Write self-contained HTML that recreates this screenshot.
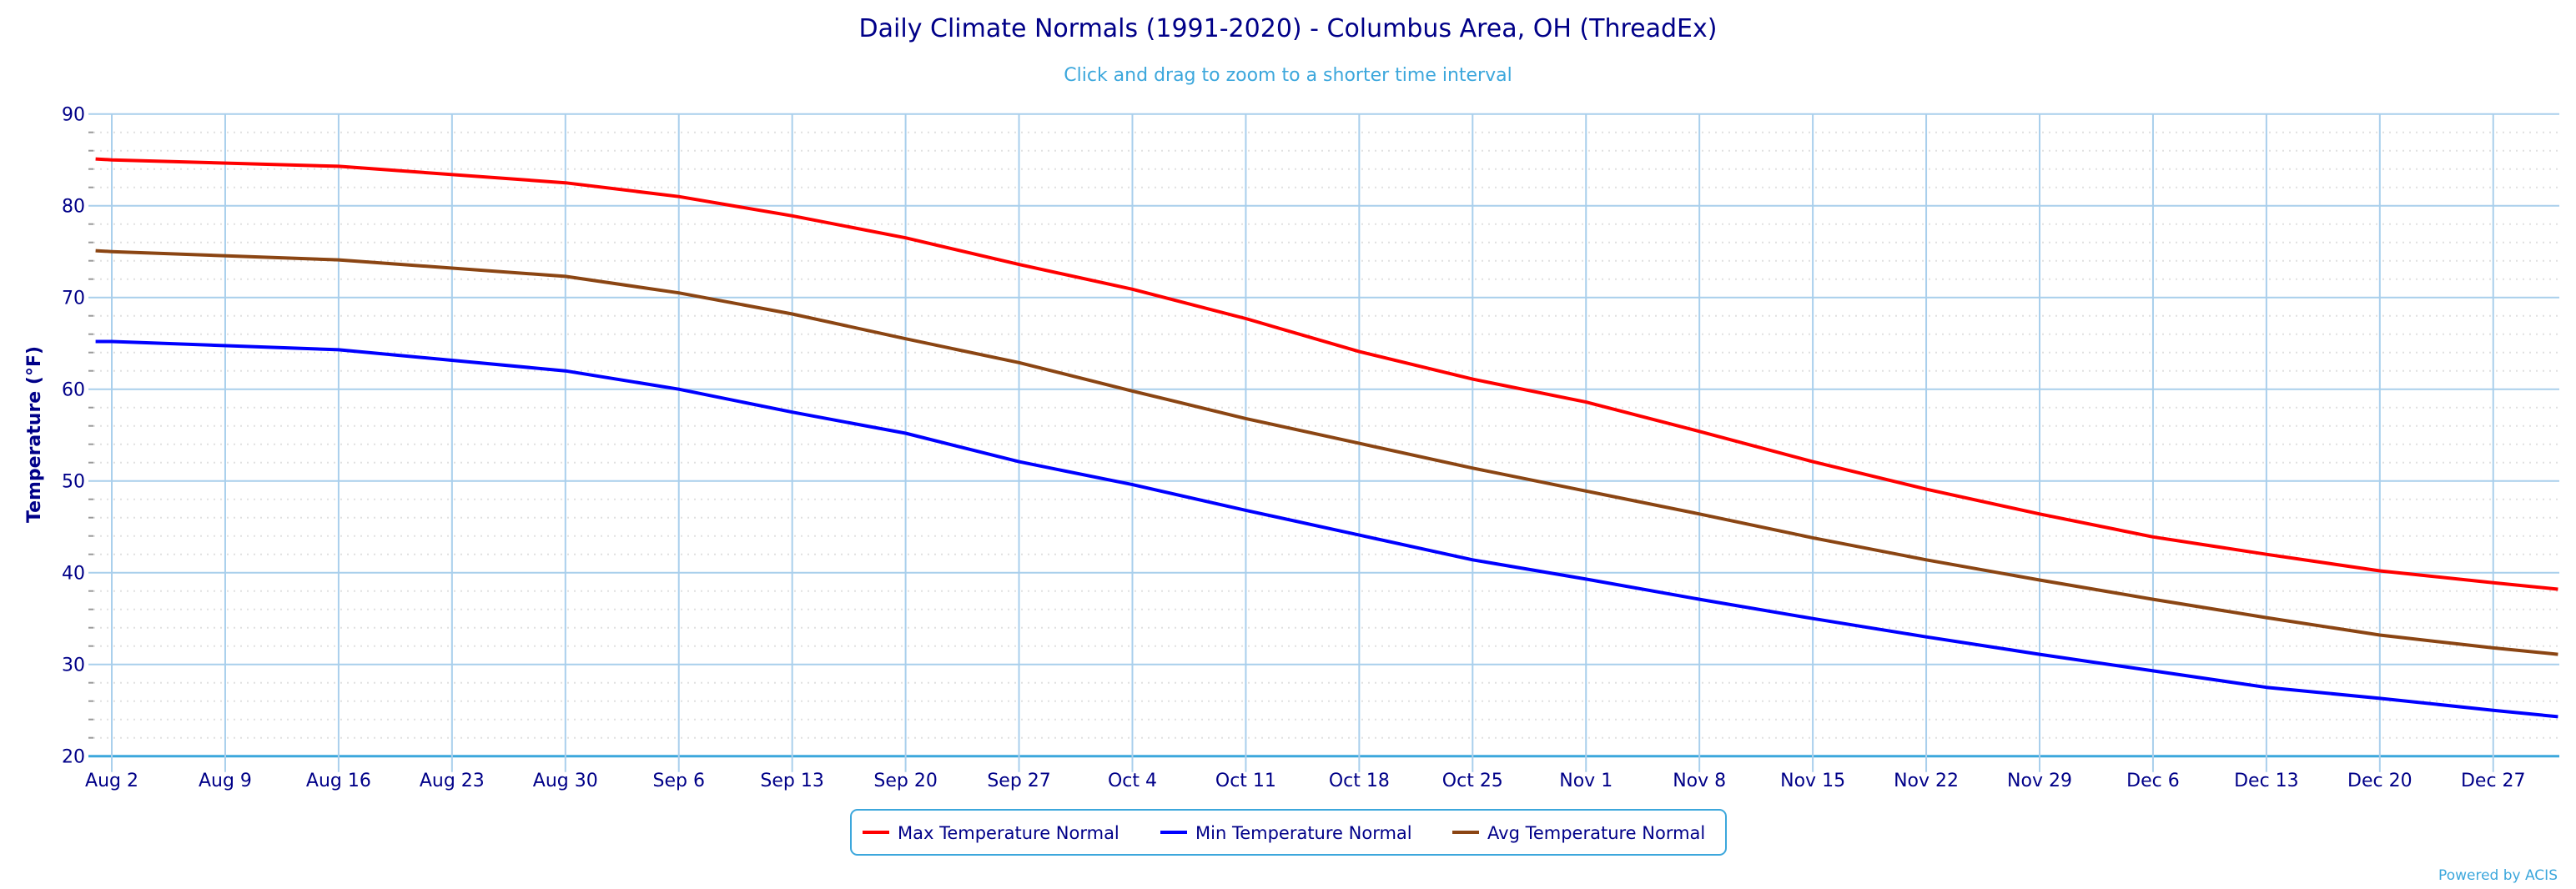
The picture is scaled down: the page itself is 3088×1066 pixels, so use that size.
<!DOCTYPE html>
<html><head><meta charset="utf-8"><style>
html,body{margin:0;padding:0;background:#fff;}
svg{display:block;font-family:"DejaVu Sans","Liberation Sans",sans-serif;}
</style></head><body>
<svg id="chart" width="3088" height="1066" viewBox="0 0 3088 1066">
<text x="1544" y="44" text-anchor="middle" font-size="30" fill="#000088">Daily Climate Normals (1991-2020) - Columbus Area, OH (ThreadEx)</text>
<text x="1544" y="97" text-anchor="middle" font-size="22" fill="#3ca7dc">Click and drag to zoom to a shorter time interval</text>
<g id="grid"></g>
<g id="series"></g>
<g id="axes"></g>
<text transform="translate(48,521) rotate(-90)" text-anchor="middle" font-size="22" font-weight="bold" fill="#000088">Temperature (°F)</text>
<g>
<rect x="1020" y="971" width="1049" height="54" rx="8" fill="#fff" stroke="#3ca7dc" stroke-width="2"/>
<g><line x1="1034" y1="998" x2="1066" y2="998" stroke="#ff0000" stroke-width="4"/><text x="1076" y="1006" font-size="21" fill="#000088">Max Temperature Normal</text></g>
<g><line x1="1391" y1="998" x2="1423" y2="998" stroke="#0000ff" stroke-width="4"/><text x="1433" y="1006" font-size="21" fill="#000088">Min Temperature Normal</text></g>
<g><line x1="1741" y1="998" x2="1773" y2="998" stroke="#8b4513" stroke-width="4"/><text x="1783" y="1006" font-size="21" fill="#000088">Avg Temperature Normal</text></g>
</g>
<text x="3066" y="1055" text-anchor="end" font-size="17" fill="#3ca7dc">Powered by ACIS</text>
</svg>
<script>
// day offsets from Aug 1
const days = [0,1,15,29,36,43,50,57,64,71,78,85,92,99,106,113,120,127,134,141,148,152];
const xTickLabels = ["Aug 2","Aug 9","Aug 16","Aug 23","Aug 30","Sep 6","Sep 13","Sep 20","Sep 27","Oct 4","Oct 11","Oct 18","Oct 25","Nov 1","Nov 8","Nov 15","Nov 22","Nov 29","Dec 6","Dec 13","Dec 20","Dec 27"];
const xTickDays = [1,8,15,22,29,36,43,50,57,64,71,78,85,92,99,106,113,120,127,134,141,148];
const yTicks = [20,30,40,50,60,70,80,90];
const maxT = [85.1,85.0,84.3,82.5,81.0,78.9,76.5,73.6,70.9,67.7,64.1,61.1,58.6,55.4,52.1,49.1,46.4,43.9,42.0,40.2,38.9,38.2];
const minT = [65.2,65.2,64.3,62.0,60.0,57.5,55.2,52.1,49.6,46.8,44.1,41.4,39.3,37.1,35.0,33.0,31.1,29.3,27.5,26.3,25.0,24.3];
const avgT = [75.1,75.0,74.1,72.3,70.5,68.2,65.5,62.9,59.8,56.8,54.1,51.4,48.9,46.4,43.8,41.4,39.2,37.1,35.1,33.2,31.8,31.1];

const X0=114.6, PXD=19.42, PL=112, PR=3068, YT=136.7, YB=906.7;
const xs = d => X0 + d*PXD;
const ys = v => YB - (v-20)*(YB-YT)/70;
const NS="http://www.w3.org/2000/svg";
function mk(tag, attrs, parent){const e=document.createElementNS(NS,tag);for(const k in attrs)e.setAttribute(k,attrs[k]);parent.appendChild(e);return e;}
const grid=document.getElementById('grid'), axes=document.getElementById('axes'), ser=document.getElementById('series');
// minor dotted gridlines
for(let v=22; v<90; v+=2){ if(v%10===0) continue;
  const l=mk('line',{x1:PL,x2:PR,y1:ys(v),y2:ys(v),stroke:'#e0e0e0','stroke-width':2,'stroke-dasharray':'2,6'},grid);
  
  
  const t=mk('line',{x1:PL-6,x2:PL,y1:ys(v),y2:ys(v),stroke:'#999','stroke-width':2},axes);
  
  
}
yTicks.forEach(v=>{
  const l=mk('line',{x1:PL-6,x2:PR,y1:ys(v),y2:ys(v),stroke: v===20?'#3ca7dc':'#a9cfec','stroke-width':v===20?3:2},grid);
  
  
  const t=mk('text',{x:PL-10,y:ys(v)+8,'text-anchor':'end','font-size':22,fill:'#000088'},axes);
  t.textContent=v;
  
  
});
xTickDays.forEach((d,i)=>{
  const x=xs(d);
  const l=mk('line',{x1:x,x2:x,y1:YT,y2:YB+19,stroke:'#a9cfec','stroke-width':2},grid);
  
  
  const t=mk('text',{x:x,y:943,'text-anchor':'middle','font-size':22,fill:'#000088'},axes);
  t.textContent=xTickLabels[i];
  
  
});
[[maxT,'#ff0000','max-temperature-line'],[avgT,'#8b4513','avg-temperature-line'],[minT,'#0000ff','min-temperature-line']].forEach(([arr,c,n])=>{
  const pts=arr.map((v,i)=>xs(days[i]).toFixed(1)+','+ys(v).toFixed(1)).join(' ');
  const p=mk('polyline',{points:pts,fill:'none',stroke:c,'stroke-width':4,'stroke-linejoin':'round'},ser);
  
  
});
</script>
</body></html>
